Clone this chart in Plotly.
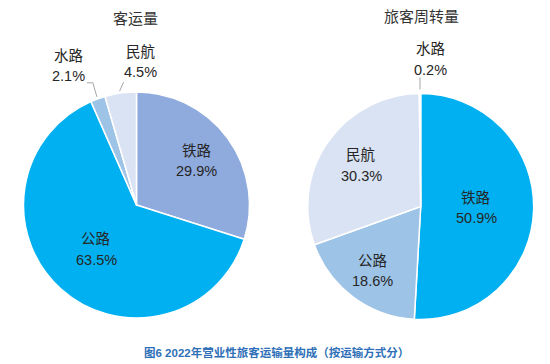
import math
import plotly.graph_objects as go

# ---- data ----
left_title = "客运量"
right_title = "旅客周转量"
left_labels = ["铁路", "公路", "水路", "民航"]
left_values = [29.9, 63.5, 2.1, 4.5]
right_labels = ["铁路", "公路", "民航", "水路"]
right_values = [50.9, 18.6, 30.3, 0.2]
caption = "图6 2022年营业性旅客运输量构成（按运输方式分）"

# ---- style ----
W, H = 550, 364
OFF = 8  # page body margin
left_colors = ["#8FAADC", "#00B0F0", "#9DC3E6", "#DAE3F3"]
right_colors = ["#00B0F0", "#9DC3E6", "#DAE3F3", "#BDD7EE"]
FONT = "Liberation Sans, Arial, Noto Sans CJK SC, sans-serif"
TXT = "#262626"
LINE = "#A6A6A6"
R = 113
GAP = 20.5  # line spacing of two-line labels
left_center = (136.5, 205.0)
right_center = (420.7, 206.5)
# inside label radial factor (None => outside label)
left_inside = [0.66, 0.53, None, None]
right_inside = [0.49, 0.71, 0.64, None]
# outside: (line points offsets relative to slice edge, label offset)
left_outside = {
    2: ([(-1, -2), (-5, -16), (-11, -16)], (-29, -33)),
    3: ([(-1, -2), (3, -11)], (20, -31)),
}
right_outside = {
    3: ([(0, -4), (0, -16)], (11, -34)),
}


def px2paper(x, y):
    return (x - OFF) / W, 1 - (y - OFF) / H


fig = go.Figure()
annotations = []
shapes = []


def label(x, y, text, size, color, bold=False):
    ax, ay = px2paper(x, y)
    annotations.append(dict(x=ax, y=ay, xref="paper", yref="paper",
                            xanchor="center", yanchor="middle",
                            text=f"<b>{text}</b>" if bold else text,
                            showarrow=False,
                            font=dict(size=size, color=color, family=FONT)))


def two_line(x, y, lab, v):
    label(x, y - GAP / 2, lab, 14.5, TXT)
    label(x, y + GAP / 2, f"{v:.1f}%", 14.5, TXT)


def add_pie(labels, values, colors, center, inside, outside):
    cx, cy = center
    x0, y0 = px2paper(cx - R, cy + R)
    x1, y1 = px2paper(cx + R, cy - R)
    fig.add_trace(go.Pie(
        labels=labels, values=values, sort=False, direction="clockwise",
        rotation=0, textinfo="none", hoverinfo="label+percent",
        marker=dict(colors=colors, line=dict(color="white", width=1.5)),
        domain=dict(x=[x0, x1], y=[y0, y1]), showlegend=False,
    ))
    total = sum(values)
    cum = 0
    for i, (lab, v) in enumerate(zip(labels, values)):
        theta = 2 * math.pi * (cum + v / 2) / total
        cum += v
        s, c = math.sin(theta), math.cos(theta)
        if inside[i] is not None:
            k = inside[i] * R
            two_line(cx + k * s, cy - k * c, lab, v)
        else:
            ex, ey = cx + R * s, cy - R * c
            pts, (lx, ly) = outside[i]
            path = []
            for j, (ox, oy) in enumerate(pts):
                qx, qy = px2paper(ex + ox, ey + oy)
                path.append(("M" if j == 0 else "L") + f" {qx} {qy}")
            shapes.append(dict(type="path", xref="paper", yref="paper",
                               path=" ".join(path),
                               line=dict(color=LINE, width=1)))
            two_line(ex + lx, ey + ly, lab, v)


add_pie(left_labels, left_values, left_colors, left_center, left_inside, left_outside)
add_pie(right_labels, right_values, right_colors, right_center, right_inside, right_outside)

label(135, 18, left_title, 15, "#333333")
label(421, 16, right_title, 15, "#333333")
label(276, 352, caption, 11.5, "#2E6FB7", bold=True)

fig.update_layout(
    width=W, height=H, margin=dict(l=0, r=0, t=0, b=0),
    paper_bgcolor="white", plot_bgcolor="white",
    annotations=annotations, shapes=shapes,
)
fig.write_html("out.html")
